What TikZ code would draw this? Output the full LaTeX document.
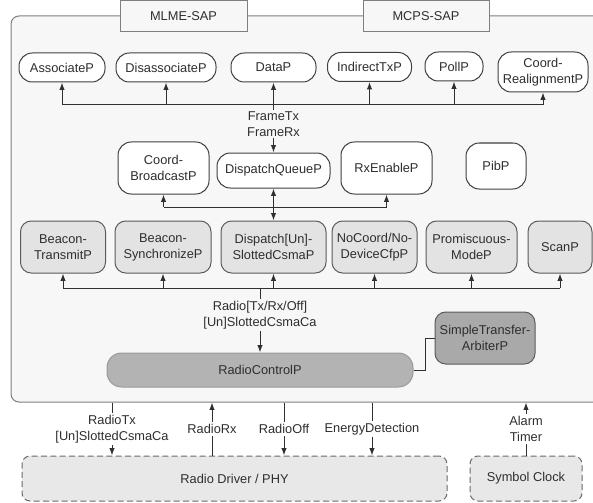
\documentclass[tikz,border=0pt]{standalone}
\usepackage{fontspec}
\setmainfont{Liberation Sans}
\usetikzlibrary{arrows.meta}

\definecolor{macbg}{HTML}{F7F7F7}
\definecolor{macline}{HTML}{7F7F7F}
\definecolor{boxline}{HTML}{404040}
\definecolor{gfill}{HTML}{E3E3E3}
\definecolor{gline}{HTML}{5A5A5A}
\definecolor{rcpfill}{HTML}{B3B3B3}
\definecolor{rcpline}{HTML}{9A9A9A}
\definecolor{stafill}{HTML}{A9A9A9}
\definecolor{phyfill}{HTML}{E8E8E8}
\definecolor{phyline}{HTML}{6A6A6A}
\definecolor{txt}{HTML}{2E2E2E}
\definecolor{wire}{HTML}{303030}

\begin{document}
\begin{tikzpicture}[x=0.75pt,y=-0.75pt,line width=0.75pt,
  every node/.style={font=\fontsize{9.6}{12}\selectfont,text=txt,align=center,inner sep=0pt},
  sz/.style 2 args={minimum width=#1*0.75pt,minimum height=#2*0.75pt},
  sap/.style={draw=macline,fill=macbg},
  wbox/.style={draw=boxline,fill=white,rounded corners=10pt},
  gbox/.style={draw=gline,fill=gfill,rounded corners=8pt},
  dbox/.style={draw=phyline,fill=phyfill,dash pattern=on 4.5pt off 2.5pt,rounded corners=6pt},
  arr/.style={draw=wire,-{Latex[length=5.5pt,width=4pt]}},
  dbl/.style={draw=wire,{Latex[length=5.5pt,width=4pt]}-{Latex[length=5.5pt,width=4pt]}},
  lbl/.style={fill=macbg,inner sep=1.5pt},
  olbl/.style={fill=white,inner sep=1.5pt}]
\useasboundingbox (0,0) rectangle (593,503);

% MAC layer and its service access points
\node[draw=macline,fill=macbg,rounded corners=6pt,sz={600}{386}] (mac) at (311,209) {};
\node[sap,sz={127}{31}] (mlme) at (183.5,16) {MLME-SAP};
\node[sap,sz={126}{31}] (mcps) at (426,16) {MCPS-SAP};

\node[wbox,sz={86}{29}] (assoc) at (62,67.5) {AssociateP};
\node[wbox,sz={100}{29}] (disassoc) at (166,67.5) {DisassociateP};
\node[wbox,sz={85}{29}] (data) at (273.5,67.5) {DataP};
\node[wbox,sz={84}{29}] (indirect) at (369.5,67) {IndirectTxP};
\node[wbox,sz={58}{29}] (poll) at (454,66.5) {PollP};
\node[wbox,sz={90}{40}] (realign) at (543,72) {Coord-\\RealignmentP};

\node[wbox,sz={91}{52}] (cbc) at (163.5,168) {Coord-\\BroadcastP};
\node[wbox,sz={113}{35}] (dq) at (273.5,170.5) {DispatchQueueP};
\node[wbox,sz={91}{52}] (rxen) at (386.5,168) {RxEnableP};
\node[wbox,sz={60}{46}] (pib) at (496,166) {PibP};

\node[gbox,sz={85}{52}] (btx) at (63,247) {Beacon-\\TransmitP};
\node[gbox,sz={96}{52}] (bsync) at (163,247) {Beacon-\\SynchronizeP};
\node[gbox,sz={105}{52}] (dcsma) at (273.5,247) {Dispatch[Un]-\\SlottedCsmaP};
\node[gbox,sz={85}{52}] (nocfp) at (374.5,247) {NoCoord/No-\\DeviceCfpP};
\node[gbox,sz={91}{52}] (prom) at (471.5,247) {Promiscuous-\\ModeP};
\node[gbox,sz={64}{52}] (scan) at (560,247) {ScanP};

\node[draw=rcpline,fill=rcpfill,rounded corners=11pt,sz={306}{34}] (rcp) at (260,370) {RadioControlP};
\node[draw=gline,fill=stafill,rounded corners=8pt,sz={100}{52}] (sta) at (485,338) {SimpleTransfer-\\ArbiterP};

% below the MAC layer
\node[dbox,sz={425}{45}] (phy) at (234.5,478.5) {Radio Driver / PHY};
\node[dbox,sz={112}{45}] (clk) at (526,478.5) {Symbol Clock};

\coordinate (tb) at (0,105);
\coordinate (mb) at (0,207);
\coordinate (lb) at (0,288);
\coordinate (tx) at (112,0);
\coordinate (rx) at (212,0);
\coordinate (off) at (284,0);
\coordinate (ed) at (372,0);

\draw[wire] (assoc |- tb) -- (realign |- tb);
\draw[arr] (assoc |- tb) -- (assoc);
\draw[arr] (disassoc |- tb) -- (disassoc);
\draw[arr] (data |- tb) -- (data);
\draw[arr] (indirect |- tb) -- (indirect);
\draw[arr] (poll |- tb) -- (poll);
\draw[arr] (realign |- tb) -- (realign);
\draw[arr] (data |- tb) -- node[lbl,pos=0.4] {FrameTx\\FrameRx} (dq);

\draw[wire] (cbc |- mb) -- (rxen |- mb);
\draw[arr] (cbc |- mb) -- (cbc);
\draw[arr] (rxen |- mb) -- (rxen);
\draw[dbl] (dq) -- (dcsma);

\draw[wire] (btx |- lb) -- (scan |- lb);
\draw[arr] (btx |- lb) -- (btx);
\draw[arr] (bsync |- lb) -- (bsync);
\draw[arr] (dcsma |- lb) -- (dcsma);
\draw[arr] (nocfp |- lb) -- (nocfp);
\draw[arr] (prom |- lb) -- (prom);
\draw[arr] (scan |- lb) -- (scan);
\draw[arr] (rcp |- lb) -- node[lbl,pos=0.42] {Radio[Tx/Rx/Off]\\{}[Un]SlottedCsmaCa} (rcp);

\draw[wire] (rcp.east) -- ++(12,0) |- (sta.west);

\draw[arr] (mac.south -| tx) -- node[olbl] {RadioTx\\{}[Un]SlottedCsmaCa} (phy.north -| tx);
\draw[arr] (phy.north -| rx) -- node[olbl] {RadioRx} (mac.south -| rx);
\draw[arr] (mac.south -| off) -- node[olbl] {RadioOff} (phy.north -| off);
\draw[arr] (mac.south -| ed) -- node[olbl] {EnergyDetection} (phy.north -| ed);
\draw[arr] (clk) -- node[olbl] {Alarm\\Timer} (mac.south -| clk);
\end{tikzpicture}
\end{document}
